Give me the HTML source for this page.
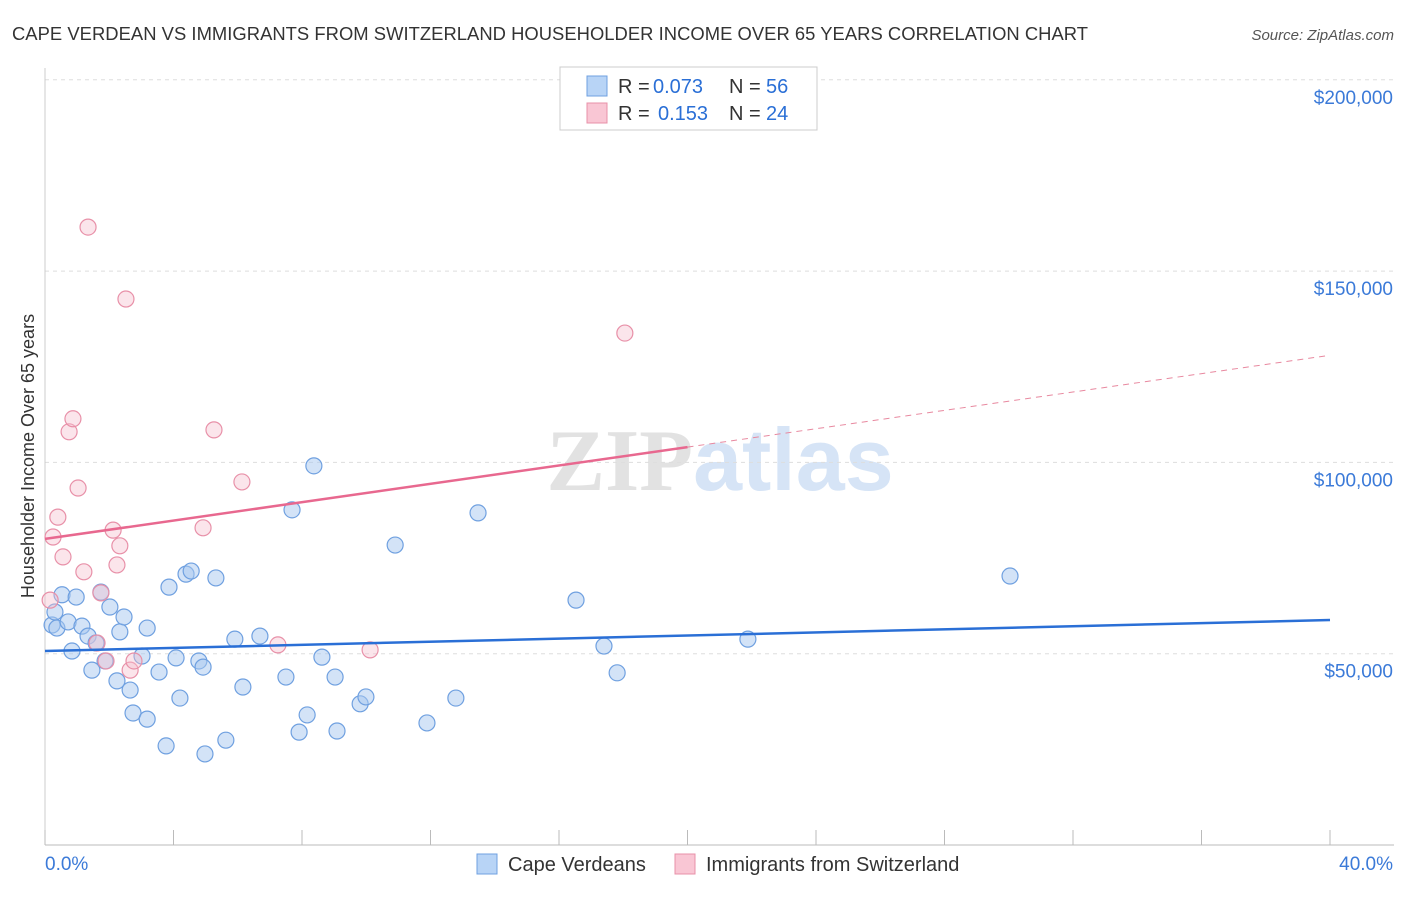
<!DOCTYPE html>
<html><head><meta charset="utf-8">
<style>
body{margin:0;background:#fff;font-family:"Liberation Sans",sans-serif;}
svg text{font-family:"Liberation Sans",sans-serif;}
</style></head>
<body>
<svg id="chart" width="1406" height="892" xmlns="http://www.w3.org/2000/svg">
<text x="12" y="40" font-size="18.4" fill="#333" textLength="1076">CAPE VERDEAN VS IMMIGRANTS FROM SWITZERLAND HOUSEHOLDER INCOME OVER 65 YEARS CORRELATION CHART</text>
<text x="1394" y="40" font-size="15" fill="#555" text-anchor="end" font-style="italic">Source: ZipAtlas.com</text>
<text x="720" y="490" font-size="88" text-anchor="middle"><tspan fill="#e2e2e2" font-family="Liberation Serif" font-weight="bold">ZIP</tspan><tspan fill="#d6e4f6" font-weight="bold">atlas</tspan></text>
<g id="grid"></g>
<g id="axes"></g>
<g id="marks"></g>
<text transform="translate(34,456) rotate(-90)" font-size="18" fill="#333" text-anchor="middle">Householder Income Over 65 years</text>
<g>
<rect x="560" y="67" width="257" height="63" fill="#fff" stroke="#ccc"/>
<rect x="587" y="76" width="20" height="20" fill="#b8d4f6" stroke="#6fa0e0"/>
<text x="618" y="93" font-size="20" fill="#333">R =</text><text x="653" y="93" font-size="20" fill="#2a6fd6">0.073</text>
<text x="729" y="93" font-size="20" fill="#333">N =</text><text x="766" y="93" font-size="20" fill="#2a6fd6">56</text>
<rect x="587" y="103" width="20" height="20" fill="#f9c6d4" stroke="#e890a8"/>
<text x="618" y="120" font-size="20" fill="#333">R =</text><text x="658" y="120" font-size="20" fill="#2a6fd6">0.153</text>
<text x="729" y="120" font-size="20" fill="#333">N =</text><text x="766" y="120" font-size="20" fill="#2a6fd6">24</text>
</g>
<g>
<rect x="477" y="854" width="20" height="20" fill="#b8d4f6" stroke="#6fa0e0"/>
<text x="508" y="871" font-size="20" fill="#333">Cape Verdeans</text>
<rect x="675" y="854" width="20" height="20" fill="#f9c6d4" stroke="#e890a8"/>
<text x="706" y="871" font-size="20" fill="#333">Immigrants from Switzerland</text>
</g>
</svg>
<script>
const yTicks=[50000,100000,150000,200000];
const yTickLabels=["$50,000","$100,000","$150,000","$200,000"];
const xTickLabels=["0.0%","40.0%"];
const blueX=[0.22,0.31,0.37,0.53,0.72,0.84,0.97,1.15,1.34,1.46,1.59,1.74,1.87,2.02,2.24,2.33,2.46,2.65,2.74,3.02,3.18,3.18,3.55,3.77,3.86,4.08,4.20,4.39,4.55,4.79,4.92,4.98,5.32,5.63,5.91,6.16,6.69,7.50,7.69,7.91,8.16,8.37,8.62,9.03,9.09,9.81,9.99,10.90,11.89,12.79,13.48,16.53,17.40,17.81,21.88,30.04];
const blueY=[57500,60900,56700,65400,58300,50700,64800,57200,54600,45700,52800,66100,48100,62200,42900,55700,59600,40500,34500,49400,32900,56700,45200,25900,67400,48900,38400,70800,71600,48100,46500,23800,69800,27400,53800,41300,54600,43900,87600,29500,34000,99100,49100,43900,29800,36900,38700,78400,31900,38400,86800,64000,52000,45000,53800,70300];
const pinkX=[0.16,0.25,0.40,0.56,0.75,0.87,1.03,1.21,1.34,1.62,1.74,1.90,2.12,2.24,2.33,2.52,2.65,2.77,4.92,5.26,6.13,7.25,10.12,18.05];
const pinkY=[64000,80500,85700,75300,108000,111400,93300,71400,161500,52800,65900,48100,82300,73200,78200,142700,45700,48100,82900,108500,94900,52300,51000,133800];
const blueTrend=[50700,58800];
const pinkTrend=[80000,128000];
const NS="http://www.w3.org/2000/svg";
const X=v=>45+v/40*1285;
const Y=v=>845-v/50000*191.3;
function mk(tag,attrs,parent){const e=document.createElementNS(NS,tag);for(const k in attrs)e.setAttribute(k,attrs[k]);document.getElementById(parent).appendChild(e);return e;}
yTicks.forEach((t,i)=>{
 const g=mk('line',{x1:45,x2:1394,y1:Y(t),y2:Y(t),stroke:'#ddd','stroke-dasharray':'4,4'},'grid');
 
 
 const l=mk('text',{x:1393,y:Y(t)+24,'font-size':19,fill:'#3b7ad8','text-anchor':'end'},'axes');
 l.textContent=yTickLabels[i];
 
 
});
const ax=mk('line',{x1:45,x2:1394,y1:845,y2:845,stroke:'#bbb'},'axes');


const ay=mk('line',{x1:45,x2:45,y1:68,y2:845,stroke:'#ccc'},'axes');


for(let i=0;i<=10;i++){
 const t=mk('line',{x1:X(i*4),x2:X(i*4),y1:830,y2:845,stroke:'#bbb'},'axes');
 
 
}
[[45,'start'],[1393,'end']].forEach((p,i)=>{
 const t=mk('text',{x:p[0],y:870,'font-size':19,fill:'#3b7ad8','text-anchor':p[1]},'axes');
 t.textContent=xTickLabels[i];
 
 
});
blueX.forEach((x,i)=>{
 const c=mk('circle',{cx:X(x),cy:Y(blueY[i]),r:8,fill:'rgba(168,200,240,0.5)',stroke:'#6fa0e0','stroke-width':1.2},'marks');
 
 
});
pinkX.forEach((x,i)=>{
 const c=mk('circle',{cx:X(x),cy:Y(pinkY[i]),r:8,fill:'rgba(246,190,206,0.4)',stroke:'#e890a8','stroke-width':1.2},'marks');
 
 
});
const bl=mk('line',{x1:X(0),y1:Y(blueTrend[0]),x2:X(40),y2:Y(blueTrend[1]),stroke:'#2a6fd6','stroke-width':2.5},'marks');


const pm=pinkTrend[0]+(pinkTrend[1]-pinkTrend[0])*0.5;
const pl=mk('line',{x1:X(0),y1:Y(pinkTrend[0]),x2:X(20),y2:Y(pm),stroke:'#e8688f','stroke-width':2.5},'marks');


const pd=mk('line',{x1:X(20),y1:Y(pm),x2:X(40),y2:Y(pinkTrend[1]),stroke:'#e8889f','stroke-width':1,'stroke-dasharray':'6,5'},'marks');


</script>
</body></html>
